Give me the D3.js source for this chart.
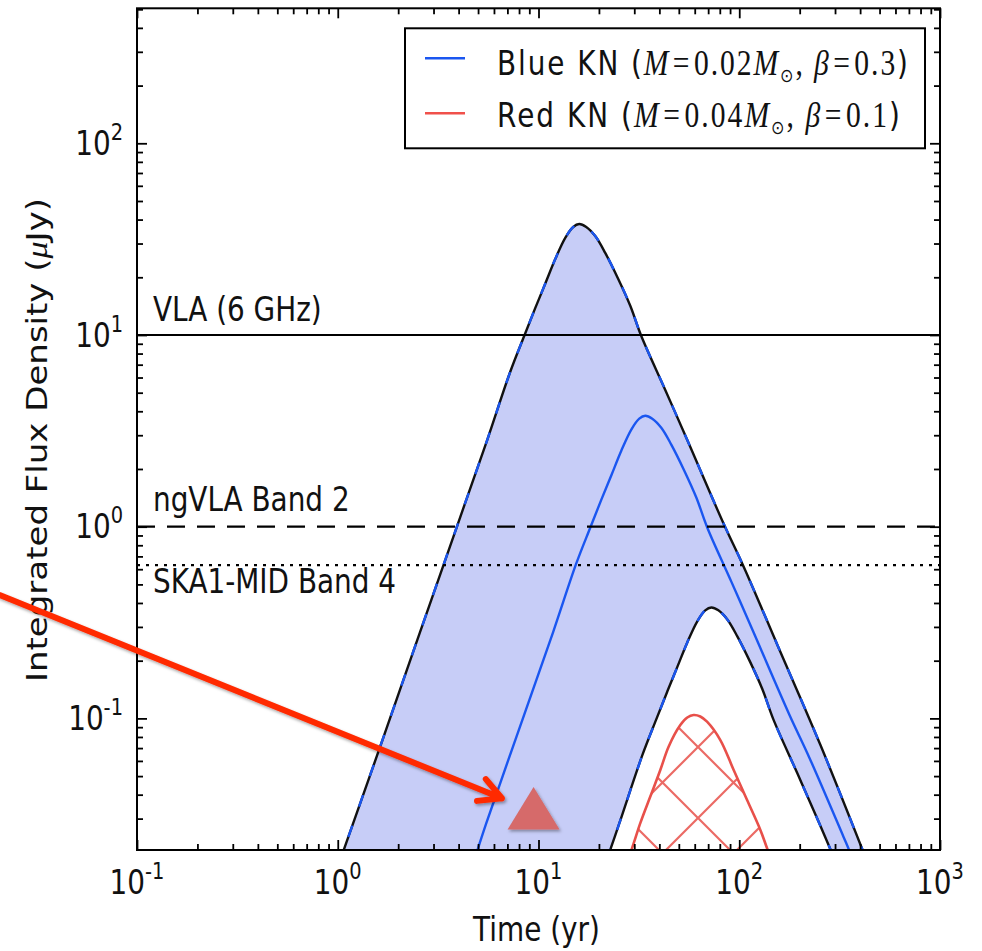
<!DOCTYPE html>
<html><head><meta charset="utf-8">
<script src="https://cdn.jsdelivr.net/npm/d3@7"></script>
<style>html,body{margin:0;padding:0;background:#fff;} svg{display:block;}</style>
</head><body>
<svg id="chart" width="982" height="951"></svg>
<script>
// ---------------- data ----------------
const xTickValues = [0.1, 1, 10, 100, 1000];
const xTickExps   = ["-1", "0", "1", "2", "3"];
const yTickValues = [0.1, 1, 10, 100];
const yTickExps   = ["-1", "0", "1", "2"];

// Blue KN upper envelope (time in yr, flux in uJy)
const blueUpperT = [1.00, 1.625, 2.572, 3.979, 5.551, 7.225, 8.487, 9.63, 10.80, 12.12, 13.59, 14.89, 15.95, 17.29, 19.17, 21.50, 24.96, 28.65, 32.51, 42.8, 55.1, 83.3, 104.8, 154.9, 253.8, 431];
const blueUpperF = [0.0168, 0.0710, 0.2825, 1.045, 2.83, 6.41, 9.88, 13.8, 18.5, 24.9, 32.1, 36.6, 37.9, 36.6, 32.8, 26.8, 19.6, 14.2, 9.88, 5.17, 2.83, 1.045, 0.624, 0.2415, 0.0726, 0.0182];
// Blue KN middle curve
const blueMidT = [4.67, 5.49, 8.49, 11.84, 15.41, 18.10, 20.54, 23.04, 25.85, 28.99, 31.76, 34.02, 36.88, 40.89, 45.86, 53.24, 61.11, 69.34, 91.3, 117.5, 177.7, 223.5, 330.4, 370.5];
const blueMidF = [0.0168, 0.0283, 0.1045, 0.283, 0.641, 0.988, 1.38, 1.85, 2.49, 3.21, 3.66, 3.79, 3.66, 3.28, 2.68, 1.96, 1.42, 0.988, 0.517, 0.283, 0.1045, 0.0624, 0.02415, 0.0182];
// Blue KN lower envelope
const blueLowerT = [21.85, 25.26, 32.87, 38.6, 43.8, 49.1, 55.1, 61.8, 67.7, 72.6, 78.7, 87.2, 97.8, 113.6, 130.4, 147.9, 194.7, 250.7, 300];
const blueLowerF = [0.0182, 0.0283, 0.0641, 0.0988, 0.138, 0.185, 0.249, 0.321, 0.366, 0.379, 0.366, 0.328, 0.268, 0.196, 0.142, 0.0988, 0.0517, 0.0283, 0.0182];
// Red KN upper envelope
const redUpperT = [26.56, 29.22, 32.14, 36.05, 40.44, 44.47, 50.87, 55.1, 59.27, 63.97, 69.1, 80.5, 93.8, 109.4, 127.4, 137.6, 151.4];
const redUpperF = [0.0162, 0.0210, 0.0284, 0.0391, 0.0538, 0.0712, 0.0924, 0.1011, 0.1041, 0.1023, 0.0961, 0.0771, 0.0538, 0.0375, 0.0262, 0.0210, 0.0162];

// Sensitivity thresholds
const thresholdNames  = ["VLA (6 GHz)", "ngVLA Band 2", "SKA1-MID Band 4"];
const thresholdValues = [10, 1.0, 0.63];
const thresholdDash   = ["none", "18,12", "3,6"];
const thresholdLabelDy = [-13.5, -15.5, 28];

// Marker and annotation arrow (data coordinates)
const markerT = [9.45];
const markerF = [0.0312];
const arrowFrom = [0.0207, 0.44];
const arrowTo   = [6.57, 0.0383];

// ---------------- layout ----------------
const L = 137, R = 940, T = 8.3, B = 850;
const SX = 0.845; // horizontal compression of the text in the original picture
const SANS = "'DejaVu Sans', sans-serif";
const SERIF = "'Liberation Serif', 'DejaVu Serif', serif";
const BLUE = "#1a56f0", FILL = "#c7cdf7", RED = "#e8504a", ARROW = "#ff2a00";

const svg = d3.select("#chart");
const x = d3.scaleLog().domain([0.1, 1000]).range([L, R]);
const y = d3.scaleLog().domain([0.02058, 506]).range([B, T]);

const defs = svg.append("defs");
defs.append("clipPath").attr("id", "plotclip").append("rect")
  .attr("x", L).attr("y", T).attr("width", R - L).attr("height", B - T);
const pat = defs.append("pattern").attr("id", "xhatch")
  .attr("patternUnits", "userSpaceOnUse").attr("width", 71).attr("height", 71)
  .attr("patternTransform", "translate(59,37)");
pat.append("path").attr("d", "M-2,-2 L73,73 M-2,73 L73,-2")
  .attr("stroke", RED).attr("stroke-width", 2.2).attr("stroke-opacity", 0.85).attr("fill", "none");
const sh = defs.append("filter").attr("id", "shadow").attr("x", "-20%").attr("y", "-20%").attr("width", "140%").attr("height", "140%");
sh.append("feDropShadow").attr("dx", 1.5).attr("dy", 2).attr("stdDeviation", 1.5)
  .attr("flood-color", "#000").attr("flood-opacity", 0.35);

const zip = (ts, fs) => ts.map((t, i) => [t, fs[i]]);
const line = d3.line().x(d => x(d[0])).y(d => y(d[1])).curve(d3.curveCatmullRom.alpha(0.5));

const upper = zip(blueUpperT, blueUpperF);
const mid = zip(blueMidT, blueMidF);
const lower = zip(blueLowerT, blueLowerF);
const red = zip(redUpperT, redUpperF);

const plot = svg.append("g").attr("clip-path", "url(#plotclip)");

// blue band: upper curve then lower curve reversed
const bandPath = line(upper) + "L" + line(lower.slice().reverse()).slice(1) + "Z";
plot.append("path").attr("d", bandPath).attr("fill", FILL).attr("stroke", "none");

// red hatched region
plot.append("path").attr("d", line(red) + "Z").attr("fill", "url(#xhatch)").attr("stroke", "none");
plot.append("path").attr("d", line(red)).attr("fill", "none").attr("stroke", RED).attr("stroke-width", 2.6);

// blue curves
[upper, lower].forEach(c => {
  plot.append("path").attr("d", line(c)).attr("fill", "none").attr("stroke", "#111").attr("stroke-width", 2.4);
  plot.append("path").attr("d", line(c)).attr("fill", "none").attr("stroke", BLUE).attr("stroke-width", 2.4)
    .attr("stroke-dasharray", "12,20");
});
plot.append("path").attr("d", line(mid)).attr("fill", "none").attr("stroke", BLUE).attr("stroke-width", 2.4);

// threshold lines
thresholdValues.forEach((v, i) => {
  plot.append("line").attr("x1", L).attr("x2", R).attr("y1", y(v)).attr("y2", y(v))
    .attr("stroke", "#000").attr("stroke-width", 2.2)
    .attr("stroke-dasharray", thresholdDash[i]);
});

// text helper
function txt(px, py, opts = {}) {
  const rot = opts.rotate ? ` rotate(${opts.rotate})` : "";
  return svg.append("text")
    .attr("transform", `translate(${px},${py}) scale(${SX},1)${rot}`)
    .attr("text-anchor", opts.anchor || "start")
    .style("font-family", SANS).style("font-size", (opts.size || 33) + "px").attr("fill", "#111");
}

thresholdValues.forEach((v, i) => {
  txt(153, y(v) + thresholdLabelDy[i]).text(thresholdNames[i]);
});

// marker triangle
markerT.forEach((t, i) => {
  svg.append("path").attr("d", "M0,-28.4 L26,14.2 L-26,14.2 Z")
    .attr("transform", `translate(${x(t)},${y(markerF[i])})`)
    .attr("fill", "#d66a6a").attr("filter", "url(#shadow)");
});

// axes (inward ticks on all four sides)
const minor = (vals, dom) => {
  const out = [];
  vals.forEach(d => { for (let k = 2; k <= 9; k++) { const v = k * d; if (v >= dom[0] && v <= dom[1]) out.push(v); } });
  return out;
};
const xMinor = minor([0.1, 1, 10, 100], x.domain());
const yMinor = minor([0.01, 0.1, 1, 10, 100], y.domain());

function ax(gen, scale, vals, size, tx, ty) {
  const g = svg.append("g").attr("transform", `translate(${tx},${ty})`)
    .call(gen(scale).tickValues(vals).tickSize(-size).tickSizeOuter(0).tickFormat(""));
  g.select(".domain").remove();
  g.selectAll(".tick line").attr("stroke", "#000").attr("stroke-width", 1.8);
}
ax(d3.axisBottom, x, xTickValues, 10, 0, B);
ax(d3.axisBottom, x, xMinor, 6, 0, B);
ax(d3.axisTop, x, xTickValues, 10, 0, T);
ax(d3.axisTop, x, xMinor, 6, 0, T);
ax(d3.axisLeft, y, yTickValues, 10, L, 0);
ax(d3.axisLeft, y, yMinor, 6, L, 0);
ax(d3.axisRight, y, yTickValues, 10, R, 0);
ax(d3.axisRight, y, yMinor, 6, R, 0);

svg.append("rect").attr("x", L).attr("y", T).attr("width", R - L).attr("height", B - T)
  .attr("fill", "none").attr("stroke", "#000").attr("stroke-width", 2);

// tick labels
xTickValues.forEach((v, i) => {
  const t = txt(x(v), 894, { anchor: "middle" });
  t.append("tspan").text("10");
  t.append("tspan").attr("dy", -15).style("font-size", "23px").text(xTickExps[i]);
});
yTickValues.forEach((v, i) => {
  const t = txt(L - 14, y(v) + 11.7, { anchor: "end" });
  t.append("tspan").text("10");
  t.append("tspan").attr("dy", -15).style("font-size", "23px").text(yTickExps[i]);
});

// axis titles
txt((L + R) / 2 - 2, 941, { anchor: "middle" }).text("Time (yr)");
const yt = txt(46.7, 440, { anchor: "middle", rotate: -90, size: 34 });
yt.append("tspan").text("Integrated Flux Density (");
yt.append("tspan").style("font-family", SERIF).style("font-style", "italic").text("μ");
yt.append("tspan").text("Jy)");

// legend
svg.append("rect").attr("x", 405).attr("y", 28.3).attr("width", 520).attr("height", 120)
  .attr("fill", "#fff").attr("stroke", "#000").attr("stroke-width", 2);
const legRows = [
  { color: BLUE, name: "Blue KN (", m: "0.02", b: "0.3", ly: 58.3, ty: 75, end: 908 },
  { color: "#f0504a", name: "Red KN (", m: "0.04", b: "0.1", ly: 113.3, ty: 126.7, end: 900 }
];
legRows.forEach(r => {
  svg.append("line").attr("x1", 425).attr("x2", 465).attr("y1", r.ly).attr("y2", r.ly)
    .attr("stroke", r.color).attr("stroke-width", 2.6);
  const t = txt(497, r.ty).attr("textLength", (r.end - 497) / SX).attr("lengthAdjust", "spacing");
  t.append("tspan").text(r.name);
  const it = s => t.append("tspan").style("font-family", SERIF).style("font-style", "italic").style("font-size", "35px").text(s);
  const rm = (s, dx) => t.append("tspan").attr("dx", dx || 0).style("font-family", SERIF).style("font-size", "35px").text(s);
  it("M"); rm("=", 3); rm(r.m, 3); it("M");
  t.append("tspan").attr("dy", 7).style("font-size", "19px").style("font-family", SANS).text("⊙");
  t.append("tspan").attr("dy", -7).style("font-family", SERIF).style("font-size", "35px").text(", ");
  it("β"); rm("=", 3); rm(r.b, 3);
  t.append("tspan").text(")");
});

// annotation arrow
const ax0 = x(arrowFrom[0]), ay0 = y(arrowFrom[1]), ax1 = x(arrowTo[0]), ay1 = y(arrowTo[1]);
const ang = Math.atan2(ay0 - ay1, ax0 - ax1);
const headLen = 25, spread = 28 * Math.PI / 180;
const h1 = [ax1 + headLen * Math.cos(ang - spread), ay1 + headLen * Math.sin(ang - spread)];
const h2 = [ax1 + headLen * Math.cos(ang + spread), ay1 + headLen * Math.sin(ang + spread)];
svg.append("path")
  .attr("d", `M${ax0},${ay0} L${ax1},${ay1} M${h1[0]},${h1[1]} L${ax1},${ay1} L${h2[0]},${h2[1]}`)
  .attr("fill", "none").attr("stroke", ARROW).attr("stroke-width", 6)
  .attr("stroke-linejoin", "round").attr("stroke-linecap", "round")
  .attr("filter", "url(#shadow)");
</script>
</body></html>
